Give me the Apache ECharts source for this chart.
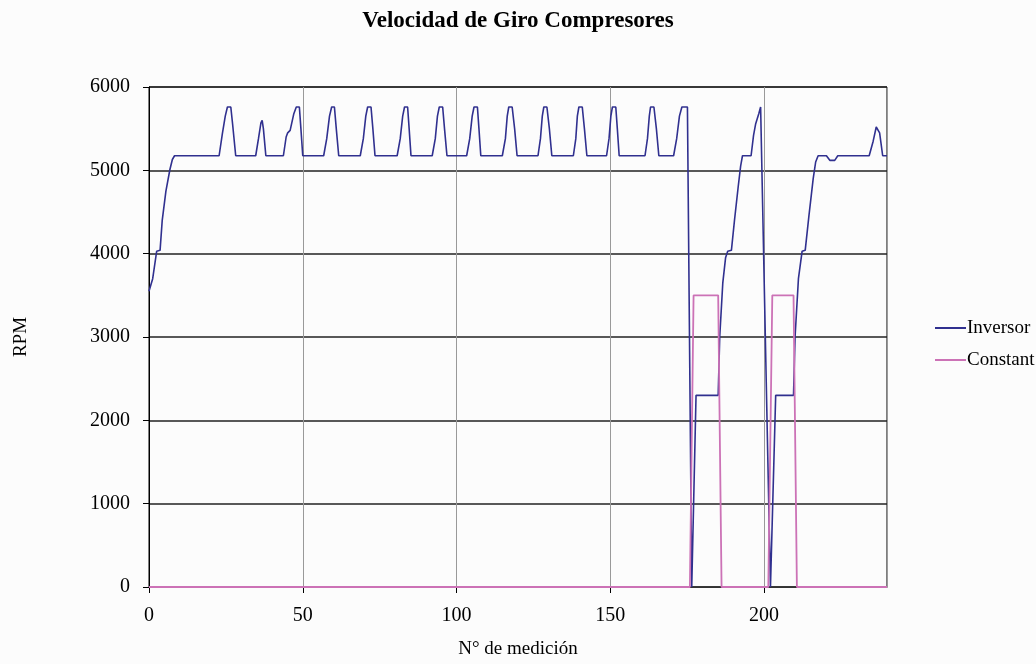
<!DOCTYPE html>
<html>
<head>
<meta charset="utf-8">
<script src="https://cdn.jsdelivr.net/npm/echarts@6/dist/echarts.min.js"></script>
<style>
html,body{margin:0;padding:0;background:#fcfcfc;}
#chart{width:1036px;height:664px;}
</style>
</head>
<body>
<div id="chart"></div>
<script>
const titleText = 'Velocidad de Giro Compresores';
const xAxisName = 'N° de medición';
const yAxisName = 'RPM';
const seriesNames = ['Inversor', 'Constant'];

// [medición, RPM]
const inversorPoints = [
  [0,3550],[1.2,3700],[2.5,4030],[3.6,4040],[4.3,4400],[5.5,4750],[6.8,5010],[7.6,5130],[8.3,5175],
  [22.8,5175],[23.9,5450],[24.8,5650],[25.5,5760],[26.6,5760],[27.2,5550],[28.2,5175],
  [34.7,5175],[35.6,5380],[36.4,5570],[36.8,5600],[37.2,5500],[38.0,5175],
  [43.7,5175],[44.6,5400],[45.1,5450],[45.9,5480],[47.1,5680],[47.9,5760],[48.9,5760],[49.4,5500],[50.0,5175],
  [56.8,5175],[57.8,5380],[58.7,5650],[59.4,5760],[60.3,5760],[60.9,5500],[61.7,5175],
  [68.7,5175],[69.7,5380],[70.5,5650],[71.1,5760],[72.2,5760],[72.8,5500],[73.5,5175],
  [80.7,5175],[81.7,5380],[82.5,5650],[83.1,5760],[84.1,5760],[84.6,5500],[85.2,5175],
  [92.1,5175],[93.1,5380],[93.8,5650],[94.4,5760],[95.5,5760],[96.1,5500],[96.9,5175],
  [103.3,5175],[104.3,5380],[105.1,5650],[105.7,5760],[106.8,5760],[107.3,5500],[107.9,5175],
  [114.9,5175],[115.9,5380],[116.5,5650],[117.0,5760],[118.1,5760],[118.9,5500],[119.7,5175],
  [126.5,5175],[127.3,5380],[127.9,5650],[128.4,5760],[129.4,5760],[130.2,5500],[131.0,5175],
  [138.0,5175],[138.8,5380],[139.3,5650],[139.8,5760],[140.9,5760],[141.6,5500],[142.4,5175],
  [148.8,5175],[149.6,5380],[150.2,5650],[150.7,5760],[151.8,5760],[152.3,5500],[152.9,5175],
  [161.3,5175],[162.1,5380],[162.7,5650],[163.1,5760],[164.2,5760],[165.0,5500],[165.8,5175],
  [170.6,5175],[171.6,5380],[172.5,5650],[173.3,5760],[175.1,5760],[176.5,0],[176.9,0],[177.9,2300],
  [185.1,2300],[185.6,3000],[186.6,3650],[187.5,3950],[188.2,4030],[189.4,4040],[190.4,4400],[191.6,4800],
  [192.4,5050],[193.0,5175],[195.8,5175],[196.6,5420],[197.3,5560],[198.3,5680],[198.9,5760],[199.5,5760],
  [202.1,0],[202.7,0],[203.8,2300],[209.6,2300],[210.1,3000],[211.2,3700],[212.4,4030],[213.4,4040],
  [214.6,4450],[216.0,4900],[216.8,5100],[217.6,5175],[220.3,5175],[221.4,5120],[223.0,5120],[224.0,5175],
  [234.2,5175],[235.5,5350],[236.5,5520],[236.9,5540],[237.6,5450],[238.6,5175],[240,5175]
];

const constantPoints = [
  [0,0],[175.9,0],[177.1,3500],[185.1,3500],[186.2,0],
  [201.4,0],[202.7,3500],[209.6,3500],[210.7,0],[240,0]
];

const xMin = 0, xMax = 240, xStep = 50;
const yMin = 0, yMax = 6000, yStep = 1000;

const serif = '"Liberation Serif", "Times New Roman", serif';
const chart = echarts.init(document.getElementById('chart'), null, {renderer: 'canvas'});
chart.setOption({
  backgroundColor: '#fcfcfc',
  animation: false,
  title: {
    text: titleText,
    left: 'center',
    top: 5,
    textStyle: {fontFamily: serif, fontSize: 23, fontWeight: 'bold', color: '#000'}
  },
  legend: {
    orient: 'vertical',
    left: 930,
    top: 313,
    icon: 'rect',
    itemWidth: 31,
    itemHeight: 2,
    itemGap: 12,
    textStyle: {fontFamily: serif, fontSize: 19, color: '#000', padding: [0,0,0,-4], lineHeight: 20},
    data: seriesNames
  },
  grid: {
    left: 149, top: 87, width: 738, height: 501,
    show: true, borderColor: '#000', borderWidth: 1, backgroundColor: 'transparent'
  },
  xAxis: {
    type: 'value', min: xMin, max: xMax, interval: xStep,
    name: xAxisName, nameLocation: 'middle', nameGap: 53,
    nameTextStyle: {fontFamily: serif, fontSize: 19, color: '#000'},
    axisLine: {show: true, lineStyle: {color: '#333', width: 1}},
    axisTick: {show: true, inside: false, length: 6, lineStyle: {color: '#000'}},
    axisLabel: {fontFamily: serif, fontSize: 20, color: '#000', margin: 19, showMaxLabel: false},
    splitLine: {show: true, lineStyle: {color: '#999', width: 1}}
  },
  yAxis: {
    type: 'value', min: yMin, max: yMax, interval: yStep,
    name: yAxisName, nameLocation: 'middle', nameGap: 118, nameRotate: 90,
    nameTextStyle: {fontFamily: serif, fontSize: 19, color: '#000'},
    axisLine: {show: true, lineStyle: {color: '#000', width: 1}},
    axisTick: {show: true, inside: false, length: 6, lineStyle: {color: '#000'}},
    axisLabel: {fontFamily: serif, fontSize: 20, color: '#000', margin: 19, formatter: function (v) { return String(v); }},
    splitLine: {show: true, lineStyle: {color: '#222', width: 1.5}}
  },
  series: [
    {
      name: seriesNames[0], type: 'line', data: inversorPoints, z: 5,
      symbol: 'none', lineStyle: {color: '#30308f', width: 1.6}, itemStyle: {color: '#30308f'}
    },
    {
      name: seriesNames[1], type: 'line', data: constantPoints, z: 6,
      symbol: 'none', lineStyle: {color: '#cc72b6', width: 1.8}, itemStyle: {color: '#cc72b6'}
    }
  ]
});
</script>
</body>
</html>
